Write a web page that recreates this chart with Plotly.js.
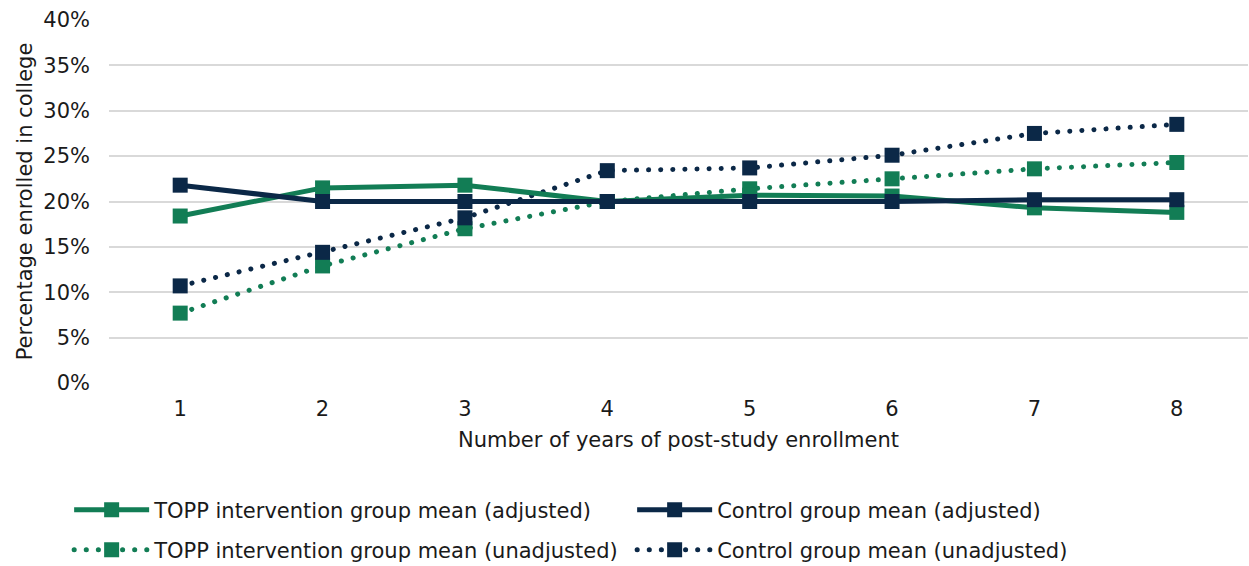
<!DOCTYPE html>
<html>
<head>
<meta charset="utf-8">
<script src="https://cdn.plot.ly/plotly-3.0.1.min.js"></script>
<style>html,body{margin:0;padding:0;background:#fff;}#chart{width:1249px;height:566px;}</style>
</head>
<body>
<div id="chart"></div>
<script>
var years = [1, 2, 3, 4, 5, 6, 7, 8];
var toppAdjusted = [18.4, 21.5, 21.8, 20.0, 20.7, 20.6, 19.3, 18.8];
var controlAdjusted = [21.8, 20.0, 20.0, 20.0, 20.0, 20.0, 20.2, 20.2];
var toppUnadjusted = [7.7, 12.9, 17.0, 20.0, 21.4, 22.5, 23.6, 24.3];
var controlUnadjusted = [10.7, 14.4, 18.2, 23.4, 23.7, 25.1, 27.5, 28.5];
var yTickVals = [0, 5, 10, 15, 20, 25, 30, 35, 40];
var yTickText = ['0%', '5%', '10%', '15%', '20%', '25%', '30%', '35%', '40%'];
var seriesNames = [
  'TOPP intervention group mean (adjusted)',
  'Control group mean (adjusted)',
  'TOPP intervention group mean (unadjusted)',
  'Control group mean (unadjusted)'
];

var green = '#127D55';
var navy = '#0B2847';
var font = 'DejaVu Sans, Verdana, sans-serif';
var fs = 21;
var txt = '#1a1a1a';

function tr(y, name, color, dotted, legend) {
  return {
    x: years, y: y, name: name, type: 'scatter', mode: 'lines+markers',
    line: {color: color, width: 5, dash: dotted ? '5px,7px' : 'solid'},
    marker: {symbol: 'square', size: 15, color: color},
    cliponaxis: false, legend: legend
  };
}

var data = [
  tr(toppUnadjusted, seriesNames[2], green, true, 'legend2'),
  tr(controlUnadjusted, seriesNames[3], navy, true, 'legend2'),
  tr(toppAdjusted, seriesNames[0], green, false, 'legend'),
  tr(controlAdjusted, seriesNames[1], navy, false, 'legend')
];
data[2].legendrank = 1; data[3].legendrank = 2; data[0].legendrank = 1; data[1].legendrank = 2;

function leg(y) {
  return {
    orientation: 'h', x: -0.035, xanchor: 'left', y: y, yanchor: 'middle',
    entrywidth: 473, entrywidthmode: 'pixels', itemwidth: 75,
    font: {size: fs, family: font, color: txt},
    bgcolor: 'rgba(0,0,0,0)'
  };
}

var layout = {
  width: 1249, height: 566,
  margin: {l: 109, r: 1, t: 20, b: 183, autoexpand: false},
  paper_bgcolor: '#fff', plot_bgcolor: '#fff',
  font: {family: font, size: fs, color: txt},
  showlegend: true,
  xaxis: {
    range: [0.5, 8.5], tickvals: years, ticktext: years.map(String),
    showgrid: false, zeroline: false, showline: false, ticks: '',
    tickfont: {size: fs, family: font, color: txt},
    ticklabelstandoff: 11,
    title: {text: 'Number of years of post-study enrollment', font: {size: fs, family: font, color: txt}, standoff: 12}
  },
  yaxis: {
    range: [0, 40], tickvals: yTickVals, ticktext: yTickText,
    showgrid: true, gridcolor: '#d9d9d9', gridwidth: 2, zeroline: false, showline: false, ticks: '',
    tickfont: {size: fs, family: font, color: txt},
    ticklabelstandoff: 18,
    title: {text: 'Percentage enrolled in college', font: {size: fs, family: font, color: txt}, standoff: 4}
  },
  legend: leg((383 - 510) / 363),
  legend2: leg((383 - 550) / 363)
};

Plotly.newPlot('chart', data, layout, {displayModeBar: false, staticPlot: true}).then(function () {
  document.querySelectorAll('.js-line').forEach(function (p) {
    var d = p.style.strokeDasharray || p.getAttribute('stroke-dasharray');
    if (d && d !== 'none' && d !== '') {
      p.style.strokeLinecap = 'round';
      p.style.strokeDasharray = '0.1px,12px';
    }
  });
});
</script>
</body>
</html>
